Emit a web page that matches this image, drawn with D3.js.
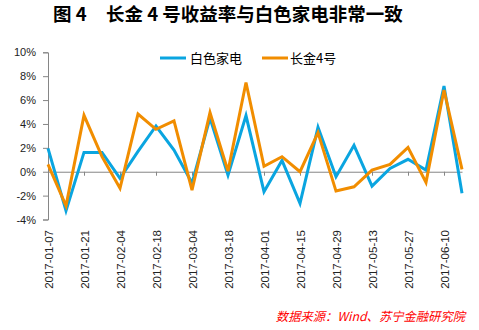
<!DOCTYPE html>
<html><head><meta charset="utf-8">
<script src="https://cdn.jsdelivr.net/npm/d3@7/dist/d3.min.js"></script>
<style>
html,body{margin:0;padding:0;background:#fff;}
svg{display:block;}
</style></head>
<body>
<script>
const categories = ["2017-01-07","2017-01-14","2017-01-21","2017-01-28","2017-02-04","2017-02-11","2017-02-18","2017-02-25","2017-03-04","2017-03-11","2017-03-18","2017-03-25","2017-04-01","2017-04-08","2017-04-15","2017-04-22","2017-04-29","2017-05-06","2017-05-13","2017-05-20","2017-05-27","2017-06-03","2017-06-10","2017-06-17"];
const seriesNames = ["白色家电","长金4号"];
const whiteGoods = [1.96,-3.27,1.62,1.62,-0.55,1.7,3.83,1.82,-0.95,4.5,-0.28,4.7,-1.67,0.95,-2.65,3.72,-0.42,2.21,-1.2,0.28,1.04,0.14,7.18,-1.81];
const changjin4 = [0.62,-2.85,4.72,1.26,-1.39,4.83,3.55,4.25,-1.55,4.95,0.05,7.47,0.45,1.26,0.0,3.27,-1.62,-1.26,0.14,0.62,2.04,-0.89,6.84,0.2];
const yTicks = [-4,-2,0,2,4,6,8,10];
const titleLabel = "图 4";
const titleText = "长金 4 号收益率与白色家电非常一致";
const sourceText = "数据来源：Wind、苏宁金融研究院";

const W = 479, H = 330;
const colors = ["#0AA5E0", "#F18D00"];
const svg = d3.select("body").append("svg").attr("width", W).attr("height", H);

const x = d3.scalePoint().domain(categories).range([48, 462]);
const y = d3.scaleLinear().domain([-4, 10]).range([219.5, 52.3]);

// title
const tfont = "'Noto Sans CJK SC', sans-serif";
svg.append("text").attr("x", 53).attr("y", 21)
  .attr("font-family", tfont).attr("font-weight", "bold").attr("font-size", 18.5)
  .attr("fill", "#000").text(titleLabel);
svg.append("text").attr("x", 106).attr("y", 21)
  .attr("font-family", tfont).attr("font-weight", "bold").attr("font-size", 18.5)
  .attr("fill", "#000").text(titleText);

// y axis
const yAxis = d3.axisLeft(y).tickValues(yTicks).tickSize(5).tickFormat(d => d + "%");
const gy = svg.append("g").attr("transform", "translate(48,0)").call(yAxis);
gy.select(".domain").attr("stroke", "#868686");
gy.selectAll(".tick line").attr("stroke", "#868686");
gy.selectAll(".tick text").attr("font-family", "'Liberation Sans', Arial, sans-serif")
  .attr("font-size", 11).attr("fill", "#222").attr("x", -12);

// x axis at zero
const labeled = categories.filter((d, i) => i % 2 === 0);
const xAxis = d3.axisBottom(x).tickValues(labeled).tickSize(4).tickSizeOuter(0);
const gx = svg.append("g").attr("transform", `translate(0,${y(0)})`).call(xAxis);
gx.select(".domain").attr("stroke", "#868686");
gx.selectAll(".tick line").attr("stroke", "#868686");
gx.selectAll(".tick text")
  .attr("font-family", "'Liberation Sans', Arial, sans-serif")
  .attr("font-size", 11.5).attr("fill", "#222")
  .attr("text-anchor", "end")
  .attr("transform", `translate(0,${230 - y(0)}) rotate(-90)`)
  .attr("x", 0).attr("y", 0).attr("dx", 0).attr("dy", "0.35em");

// lines
const data = [whiteGoods, changjin4];
const line = d3.line().x((d, i) => x(categories[i])).y(d => y(d));
data.forEach((s, k) => {
  svg.append("path").datum(s).attr("d", line)
    .attr("fill", "none").attr("stroke", colors[k]).attr("stroke-width", 3)
    .attr("stroke-linejoin", "miter");
});

// legend
const legendPos = [{x1: 160, x2: 186, tx: 190}, {x1: 262, x2: 288, tx: 290}];
seriesNames.forEach((n, k) => {
  const p = legendPos[k];
  svg.append("line").attr("x1", p.x1).attr("x2", p.x2).attr("y1", 58).attr("y2", 58)
    .attr("stroke", colors[k]).attr("stroke-width", 3);
  svg.append("text").attr("x", p.tx).attr("y", 58).attr("dy", "0.35em")
    .attr("font-family", "'Noto Sans CJK SC', sans-serif").attr("font-size", 13)
    .attr("fill", "#000").text(n);
});

// source
svg.append("text").attr("x", 465).attr("y", 321).attr("text-anchor", "end")
  .attr("font-family", "'Noto Sans CJK SC', sans-serif").attr("font-size", 12.3)
  .attr("font-style", "italic").attr("fill", "#FF0000").text(sourceText);
</script>
</body></html>
